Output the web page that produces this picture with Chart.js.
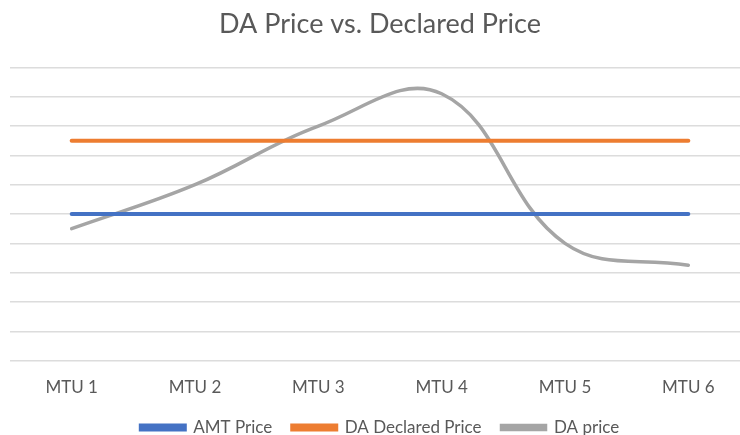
<!DOCTYPE html>
<html lang="en">
<head>
    <meta charset="UTF-8">
    <title>DA Price vs. Declared Price</title>
    <script src="https://cdn.jsdelivr.net/npm/chart.js"></script>
    <style>
        html, body { margin: 0; padding: 0; background: #fff; overflow: hidden; }
        .chart-box { position: relative; width: 752px; height: 435px; }
    </style>
</head>
<body>
    <div class="chart-box">
        <canvas id="priceChart"></canvas>
    </div>

    <script>
        // Chart data
        const mtuLabels = ['MTU 1', 'MTU 2', 'MTU 3', 'MTU 4', 'MTU 5', 'MTU 6'];
        const amtPrice = [5, 5, 5, 5, 5, 5];
        const daDeclaredPrice = [7.5, 7.5, 7.5, 7.5, 7.5, 7.5];
        const daPrice = [4.5, 6.0, 8.0, 9.1, 4.0, 3.25];

        const textColor = '#595959';
        const fontFamily = 'Lato, "Open Sans", sans-serif';

        function lineSet(label, data, color, width) {
            return {
                label: label,
                data: data,
                borderColor: color,
                backgroundColor: color,
                borderWidth: width,
                borderCapStyle: 'round',
                pointRadius: 0,
                tension: 0.4,
                fill: false
            };
        }

        const ctx = document.getElementById('priceChart').getContext('2d');
        new Chart(ctx, {
            type: 'line',
            data: {
                labels: mtuLabels,
                datasets: [
                    lineSet('AMT Price', amtPrice, '#4472C4', 4),
                    lineSet('DA Declared Price', daDeclaredPrice, '#ED7D31', 4),
                    lineSet('DA price', daPrice, '#A5A5A5', 3.5)
                ]
            },
            options: {
                responsive: true,
                maintainAspectRatio: false,
                animation: false,
                // negative bottom padding pulls the legend down to the edge like the original
                layout: { padding: { left: 10, right: 2, top: 0, bottom: -11 } },
                plugins: {
                    title: {
                        display: true,
                        text: 'DA Price vs. Declared Price',
                        color: textColor,
                        font: { family: fontFamily, size: 27, weight: 'normal' },
                        padding: { top: 8, bottom: 27 }
                    },
                    legend: {
                        position: 'bottom',
                        labels: {
                            color: textColor,
                            font: { family: fontFamily, size: 17 },
                            boxWidth: 44,
                            boxHeight: 4,
                            padding: 20
                        }
                    },
                    tooltip: { enabled: false }
                },
                scales: {
                    x: {
                        offset: true,
                        grid: { display: false },
                        border: { display: false },
                        ticks: {
                            color: textColor,
                            font: { family: fontFamily, size: 17 },
                            padding: 9
                        },
                        // tighten the gap between tick labels and legend
                        afterFit: function (axis) { axis.height -= 8; }
                    },
                    y: {
                        min: 0,
                        max: 10,
                        ticks: { display: false, stepSize: 1 },
                        border: { display: false },
                        grid: { color: '#dcdcdc', lineWidth: 1.5, drawTicks: false }
                    }
                }
            }
        });
    </script>
</body>
</html>
